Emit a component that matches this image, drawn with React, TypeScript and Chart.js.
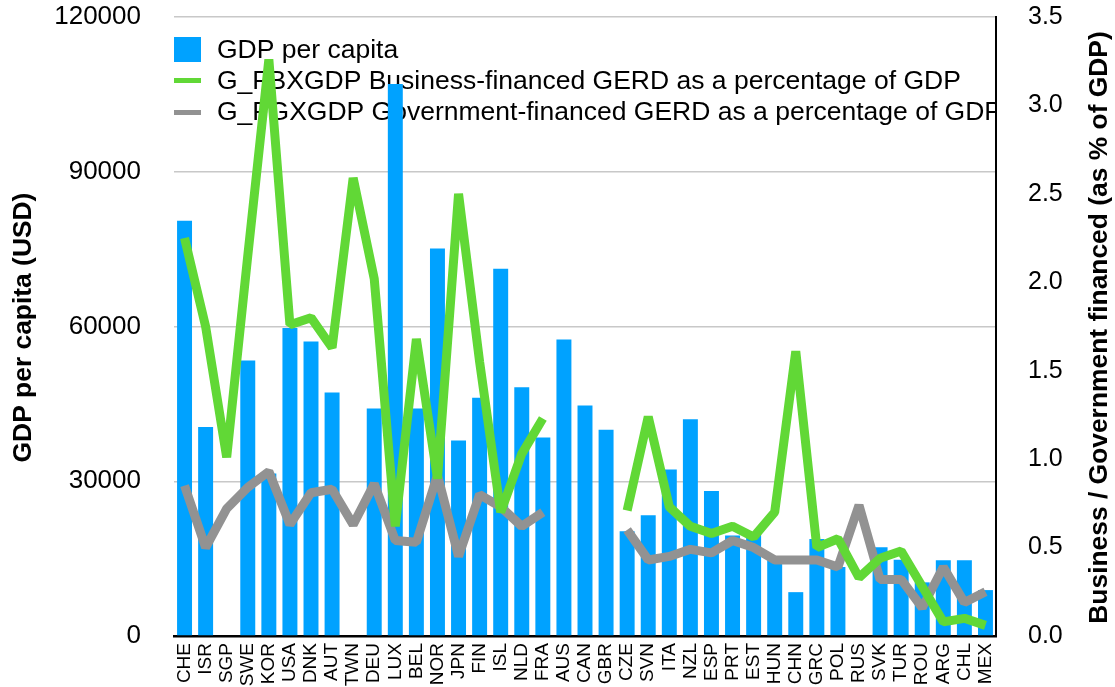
import React, { useEffect, useRef } from "react";
import { Chart, registerables } from "chart.js";

Chart.register(...registerables);

const countries = ["CHE","ISR","SGP","SWE","KOR","USA","DNK","AUT","TWN","DEU","LUX","BEL","NOR","JPN","FIN","ISL","NLD","FRA","AUS","CAN","GBR","CZE","SVN","ITA","NZL","ESP","PRT","EST","HUN","CHN","GRC","POL","RUS","SVK","TUR","ROU","ARG","CHL","MEX"];

const gdpPerCapita = [80500,40500,null,53400,31500,59700,57100,47200,null,44100,107000,44100,75100,37900,46200,71200,48200,38500,57500,44700,40000,20300,23400,32300,42000,28100,19500,19900,14700,8500,18800,13400,null,17200,14800,10400,14700,14700,8900];

const businessFinanced = [2.25,1.75,1.01,2.15,3.26,1.76,1.80,1.63,2.59,2.02,0.62,1.68,0.89,2.50,1.55,0.70,1.03,1.23,null,null,null,0.71,1.24,0.73,0.62,0.58,0.62,0.56,0.70,1.61,0.50,0.55,0.33,0.44,0.48,0.28,0.08,0.10,0.06];

const governmentFinanced = [0.85,0.50,0.72,0.84,0.93,0.63,0.81,0.83,0.63,0.86,0.54,0.53,0.91,0.45,0.80,0.73,0.62,0.70,null,null,null,0.60,0.43,0.45,0.49,0.47,0.54,0.50,0.43,0.43,0.43,0.39,0.74,0.32,0.32,0.16,0.39,0.19,0.25];

const seriesNames = [
  "GDP per capita",
  "G_FBXGDP Business-financed GERD as a percentage of GDP",
  "G_FGXGDP Government-financed GERD as a percentage of GDP",
];

const leftTitle = "GDP per capita (USD)";
const rightTitle = "Business / Government financed (as % of GDP)";

const BLUE = "#00a2ff";
const GREEN = "#61d836";
const GREY = "#929292";
const FONT = '"Liberation Sans", Arial, Helvetica, sans-serif';

export default function App() {
  const ref = useRef<HTMLCanvasElement | null>(null);

  useEffect(() => {
    document.body.style.margin = "0";
    const canvas = ref.current;
    if (!canvas) return;

    const legendPlugin = {
      id: "customLegend",
      beforeDatasetsDraw(chart: any) {
        const { ctx, chartArea } = chart;
        ctx.save();
        ctx.beginPath();
        ctx.rect(chartArea.left, chartArea.top, chartArea.right - chartArea.left - 1, chartArea.bottom - chartArea.top);
        ctx.clip();
        const x0 = chartArea.left;
        const textX = 217;
        const rows = [51, 82, 113];
        ctx.font = `26.5px ${FONT}`;
        ctx.textBaseline = "middle";
        ctx.textAlign = "left";
        ctx.fillStyle = BLUE;
        ctx.fillRect(x0, 37, 27, 25);
        ctx.fillStyle = GREEN;
        ctx.fillRect(x0, 78, 27, 5);
        ctx.fillStyle = GREY;
        ctx.fillRect(x0, 110, 27, 5);
        ctx.fillStyle = "#000";
        seriesNames.forEach((n, i) => ctx.fillText(n, textX, rows[i]));
        ctx.restore();
      },
    };

    const titlesPlugin = {
      id: "axisTitles",
      afterDraw(chart: any) {
        const { ctx, chartArea } = chart;
        const cy = (chartArea.top + chartArea.bottom) / 2;
        const draw = (text: string, x: number) => {
          ctx.save();
          ctx.font = `bold 26.4px ${FONT}`;
          ctx.fillStyle = "#000";
          ctx.textAlign = "center";
          ctx.textBaseline = "middle";
          ctx.translate(x, cy + 1);
          ctx.rotate(-Math.PI / 2);
          ctx.fillText(text, 0, 0);
          ctx.restore();
        };
        draw(leftTitle, 24);
        draw(rightTitle, 1100);
      },
    };

    const noPad = (s: any) => {
      s.paddingTop = 0;
      s.paddingBottom = 0;
    };

    const chart = new Chart(canvas, {
      type: "bar",
      data: {
        labels: countries,
        datasets: [
          {
            type: "line",
            label: seriesNames[1],
            data: businessFinanced,
            yAxisID: "y1",
            borderColor: GREEN,
            backgroundColor: GREEN,
            borderWidth: 9,
            borderJoinStyle: "bevel",
            pointRadius: 0,
            spanGaps: false,
            tension: 0,
            order: 0,
          } as any,
          {
            type: "line",
            label: seriesNames[2],
            data: governmentFinanced,
            yAxisID: "y1",
            borderColor: GREY,
            backgroundColor: GREY,
            borderWidth: 9,
            borderJoinStyle: "bevel",
            pointRadius: 0,
            spanGaps: false,
            tension: 0,
            order: 1,
          } as any,
          {
            type: "bar",
            label: seriesNames[0],
            data: gdpPerCapita,
            yAxisID: "y",
            backgroundColor: BLUE,
            borderWidth: 0,
            barPercentage: 0.71,
            categoryPercentage: 1,
            order: 2,
          } as any,
        ],
      },
      options: {
        animation: false,
        responsive: true,
        maintainAspectRatio: false,
        layout: { padding: { top: 17, left: 0, right: 0, bottom: 0 } },
        plugins: {
          legend: { display: false },
          tooltip: { enabled: false },
          title: { display: false },
        },
        scales: {
          x: {
            type: "category",
            offset: true,
            grid: { display: false, drawTicks: false },
            border: { display: true, color: "#000", width: 2.5 },
            ticks: {
              autoSkip: false,
              minRotation: 90,
              maxRotation: 90,
              padding: 7,
              color: "#000",
              font: { family: FONT, size: 19 },
            },
            afterFit: (s: any) => {
              s.height = 51;
            },
          },
          y: {
            position: "left",
            min: 0,
            max: 120000,
            ticks: {
              stepSize: 30000,
              padding: 33,
              color: "#000",
              font: { family: FONT, size: 26 },
              callback: (v: any) => String(v),
            },
            grid: { color: "#c8c8c8", lineWidth: 1.5, drawTicks: false },
            border: { display: false },
            afterFit: (s: any) => {
              s.width = 174;
              noPad(s);
            },
          },
          y1: {
            position: "right",
            min: 0,
            max: 3.5,
            ticks: {
              stepSize: 0.5,
              padding: 32,
              color: "#000",
              font: { family: FONT, size: 25 },
              callback: (v: any) => Number(v).toFixed(1),
            },
            grid: { drawOnChartArea: false, drawTicks: false },
            border: { display: true, color: "#000", width: 2 },
            afterFit: (s: any) => {
              s.width = 119;
              noPad(s);
            },
          },
        },
      } as any,
      plugins: [legendPlugin, titlesPlugin],
    });

    return () => chart.destroy();
  }, []);

  return (
    <div style={{ position: "absolute", left: 0, top: 0, width: 1115, height: 687 }}>
      <canvas ref={ref} />
    </div>
  );
}
